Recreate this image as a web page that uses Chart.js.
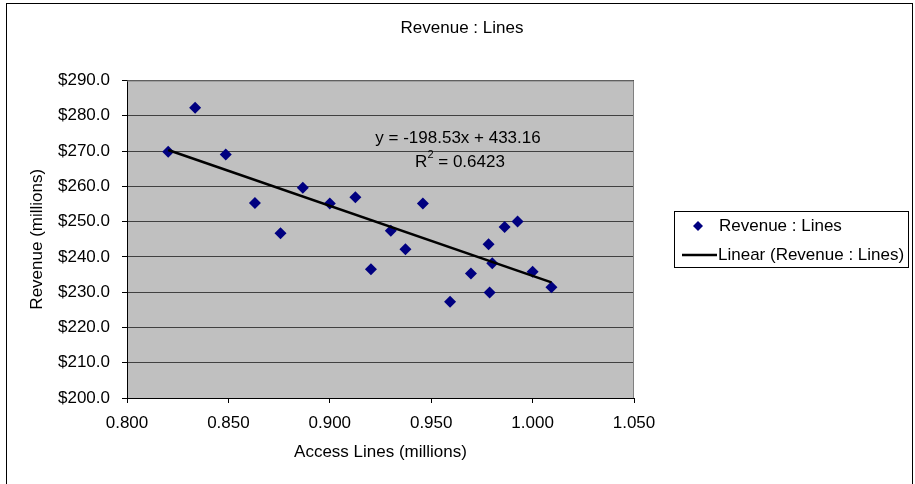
<!DOCTYPE html>
<html>
<head>
<meta charset="utf-8">
<script src="https://cdn.jsdelivr.net/npm/chart.js@4.4.1/dist/chart.umd.min.js"></script>
<style>
html,body{margin:0;padding:0;background:#fff;}
#wrap{width:915px;height:484px;}
</style>
</head>
<body>
<div id="wrap"><canvas id="c" width="915" height="484"></canvas></div>
<script>
// ---- data ----
const accessLines = [0.8203, 0.8336, 0.8487, 0.8631, 0.8757, 0.8867, 0.9000, 0.9126, 0.9203, 0.9301, 0.9373, 0.9459, 0.9593, 0.9696, 0.9783, 0.9788, 0.9801, 0.9862, 0.9926, 1.0000, 1.0093];
const revenue     = [269.8, 282.3, 269.0, 255.3, 246.7, 259.6, 255.1, 256.9, 236.5, 247.4, 242.2, 255.1, 227.3, 235.3, 243.6, 229.9, 238.2, 248.5, 250.0, 235.8, 231.4];
const trendSlope = -198.53;
const trendIntercept = 433.16;
const rSquared = '0.6423';
const chartTitle = 'Revenue : Lines';
const seriesName = 'Revenue : Lines';
const trendName = 'Linear (Revenue : Lines)';
const xTitle = 'Access Lines (millions)';
const yTitle = 'Revenue (millions)';

const FONT = 'Liberation Sans, Arial, sans-serif';
const FS = 17;

const points = accessLines.map((x, i) => ({x: x, y: revenue[i]}));
const xMin = Math.min(...accessLines), xMax = Math.max(...accessLines);
const trend = [xMin, xMax].map(x => ({x: x, y: trendSlope * x + trendIntercept}));

const decor = {
  id: 'decor',
  beforeDraw(chart) {
    const {ctx, chartArea: a} = chart;
    ctx.save();
    ctx.fillStyle = '#fff';
    ctx.fillRect(0, 0, chart.width, chart.height);
    ctx.fillStyle = '#C0C0C0';
    ctx.fillRect(a.left, a.top, a.right - a.left, a.bottom - a.top);
    ctx.restore();
  },
  afterDraw(chart) {
    const {ctx, chartArea: a} = chart;
    ctx.save();
    // plot border (top/right)
    ctx.strokeStyle = '#808080';
    ctx.lineWidth = 1;
    ctx.beginPath();
    ctx.moveTo(a.left, a.top + 0.5);
    ctx.lineTo(a.right - 0.5, a.top + 0.5);
    ctx.lineTo(a.right - 0.5, a.bottom);
    ctx.stroke();
    // outer chart border
    ctx.strokeStyle = '#000';
    ctx.strokeRect(6.5, 3.5, 906, 500);
    // title
    ctx.fillStyle = '#000';
    ctx.font = FS + 'px ' + FONT;
    ctx.textAlign = 'center';
    ctx.textBaseline = 'middle';
    ctx.fillText(chartTitle, 462, 28);
    // trendline equation
    const eq = 'y = ' + trendSlope.toFixed(2) + 'x + ' + trendIntercept.toFixed(2);
    ctx.fillText(eq, 458, 138);
    ctx.textAlign = 'left';
    const rTxt = ' = ' + rSquared;
    const wR = ctx.measureText('R').width;
    ctx.font = '11px ' + FONT;
    const w2 = ctx.measureText('2').width;
    ctx.font = FS + 'px ' + FONT;
    const wRest = ctx.measureText(rTxt).width;
    let x0 = 460 - (wR + w2 + wRest) / 2;
    ctx.fillText('R', x0, 162);
    ctx.font = '11px ' + FONT;
    ctx.fillText('2', x0 + wR, 155);
    ctx.font = FS + 'px ' + FONT;
    ctx.fillText(rTxt, x0 + wR + w2, 162);
    // legend
    ctx.fillStyle = '#fff';
    ctx.fillRect(674, 211, 234, 56);
    ctx.strokeStyle = '#000';
    ctx.strokeRect(674.5, 211.5, 234, 56);
    ctx.fillStyle = '#000080';
    ctx.beginPath();
    ctx.moveTo(698, 221); ctx.lineTo(703, 226); ctx.lineTo(698, 231); ctx.lineTo(693, 226);
    ctx.closePath(); ctx.fill();
    ctx.strokeStyle = '#000';
    ctx.lineWidth = 2.5;
    ctx.beginPath(); ctx.moveTo(682, 255); ctx.lineTo(717, 255); ctx.stroke();
    ctx.fillStyle = '#000';
    ctx.textAlign = 'left';
    ctx.fillText(seriesName, 719, 226);
    ctx.fillText(trendName, 718, 255);
    ctx.restore();
  }
};

new Chart(document.getElementById('c'), {
  type: 'scatter',
  data: {
    datasets: [
      {
        label: seriesName,
        data: points,
        pointStyle: 'rectRot',
        pointRadius: 6,
        pointHoverRadius: 6,
        backgroundColor: '#000080',
        borderColor: '#000080',
        borderWidth: 0,
        order: 2
      },
      {
        label: trendName,
        type: 'line',
        data: trend,
        borderColor: '#000',
        borderWidth: 2.5,
        pointRadius: 0,
        fill: false,
        order: 1
      }
    ]
  },
  options: {
    responsive: false,
    animation: false,
    devicePixelRatio: 1,
    layout: {padding: {left: 0, right: 281, top: 80.5, bottom: 0}},
    plugins: {legend: {display: false}, title: {display: false}, tooltip: {enabled: false}},
    scales: {
      x: {
        type: 'linear',
        min: 0.8, max: 1.05,
        afterFit(s) { s.height = 86; },
        ticks: {stepSize: 0.05, color: '#000', font: {family: FONT, size: FS}, padding: 10,
                callback: v => v.toFixed(3), maxRotation: 0},
        grid: {drawOnChartArea: false, drawTicks: true, tickLength: 5, color: '#000'},
        border: {color: '#000', width: 1},
        title: {display: true, text: xTitle, color: '#000', font: {family: FONT, size: FS}, padding: {top: 21, bottom: 21}}
      },
      y: {
        min: 200, max: 290,
        afterFit(s) { s.width = 127; },
        ticks: {stepSize: 10, color: '#000', font: {family: FONT, size: FS}, padding: 12,
                callback: v => '$' + v.toFixed(1)},
        grid: {color: '#404040', tickColor: '#000', drawTicks: true, tickLength: 5},
        border: {color: '#000', width: 1},
        title: {display: true, text: yTitle, color: '#000', font: {family: FONT, size: FS}, padding: {top: 27, bottom: 0}}
      }
    }
  },
  plugins: [decor]
});
</script>
</body>
</html>
